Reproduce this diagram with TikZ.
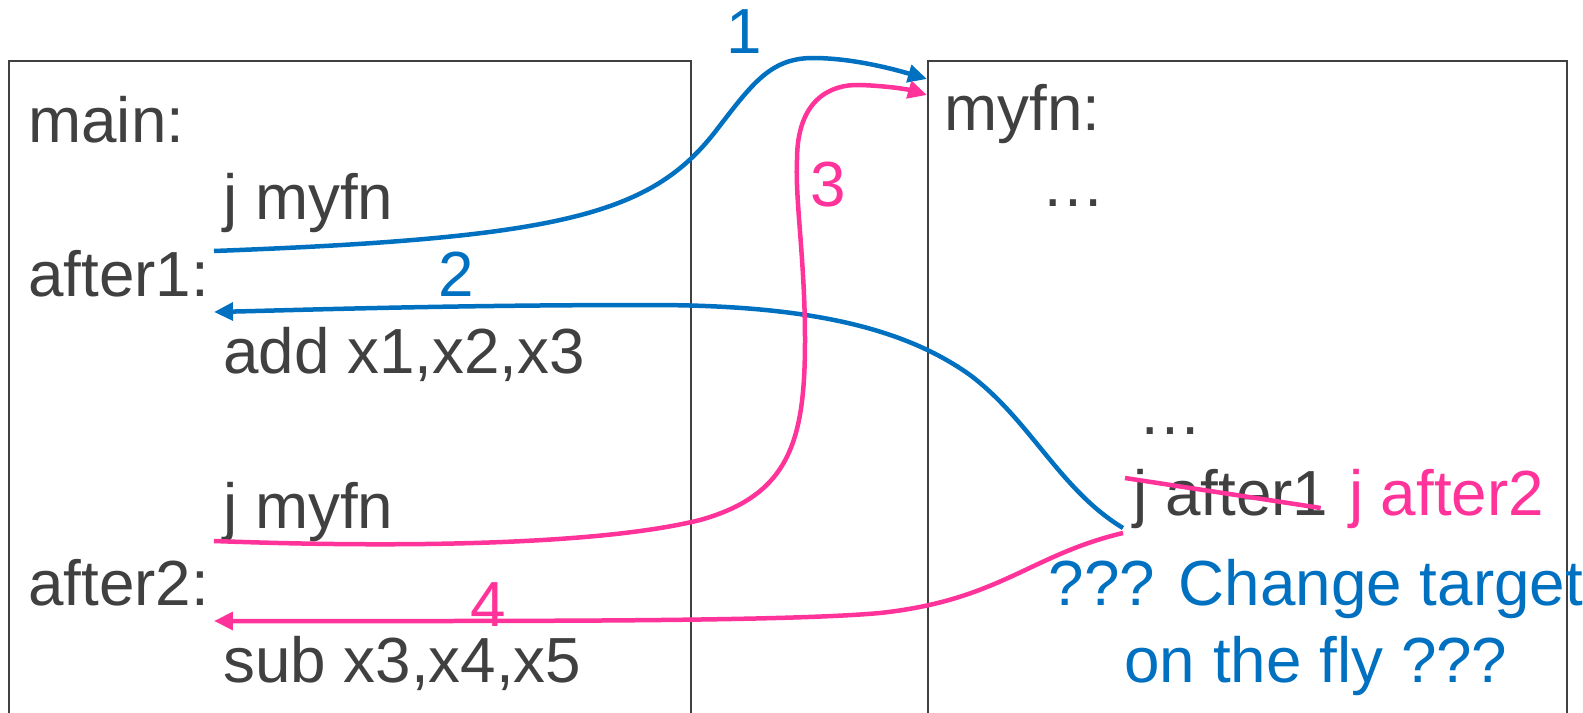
\documentclass[tikz,border=0pt]{standalone}
\usepackage{fontspec}
\setmainfont{Liberation Sans}
\usetikzlibrary{arrows.meta, positioning}
\definecolor{ink}{RGB}{64, 64, 64}
\definecolor{callblue}{RGB}{0, 112, 192}
\definecolor{retpink}{RGB}{255, 51, 153}
\tikzset{
  codebox/.style={
    draw=ink, line width=0.04cm, anchor=north west, inner sep=0pt
  },
  code/.style={
    font=\fontsize{36.3}{43.7}\selectfont, text=ink,
    inner sep=0pt, anchor=base west
  },
  steplabel/.style={
    font=\fontsize{36.3}{43.7}\selectfont, inner sep=0pt, anchor=base
  },
  blueflow/.style={-{Triangle[length=3.8mm, width=3.5mm]}, line width=0.09cm, callblue},
  pinkflow/.style={-{Triangle[length=3.8mm, width=3.5mm]}, line width=0.09cm, retpink},
  strike/.style={line width=0.09cm, retpink},
}

\begin{document}
\begin{tikzpicture}[x=0.02cm, y=-0.02cm]
  \useasboundingbox (0,0) rectangle (1583,713);

  % ============ CODE BOXES ============
  \node[codebox, minimum width=13.64cm, minimum height=13.6cm] (mainbox) at (8,60) {};
  \node[codebox, minimum width=12.78cm, minimum height=13.6cm] (fnbox) at (927,60) {};

  % caller (left box)
  \node[code] (mainlbl) at (28,143) {main:};
  \node[code] (jmyfnA)  at (223,219) {j myfn};
  \node[code] (afterA)  at (28,296) {after1:};
  \node[code] (addins)  at (223,373) {add x1,x2,x3};
  \node[code] (jmyfnB)  at (223,528) {j myfn};
  \node[code] (afterB)  at (28,605) {after2:};
  \node[code] (subins)  at (223,682) {sub x3,x4,x5};

  % callee (right box)
  \node[code] (myfnlbl) at (944,131) {myfn:};
  \node[code] (dotsA)   at (1041,207) {…};
  \node[code] (dotsB)   at (1138,434) {…};
  \node[code] (jafterA) at (1133,515) {j after1};
  \node[code, text=retpink, anchor=base west] (jafterB)
    at ([xshift=0.4cm]jafterA.base east) {j after2};
  % (base of a two-line node sits on its last line)
  \node[code, text=callblue, align=center, anchor=base] (note) at (1316,682)
    {??? Change target\\on the fly ???};

  % ============ LINK POINTS ============
  \coordinate (callA) at (214,251);
  \coordinate (retA)  at (214,312);
  \coordinate (callB) at (214,541);
  \coordinate (retB)  at (214,621);
  \coordinate (entryA) at (927,79);
  \coordinate (entryB) at (927,95);
  \coordinate (exitA) at (1123,528);
  \coordinate (exitB) at (1123,533);

  % ============ CONTROL FLOW ============
  % 1: first call
  \draw[blueflow] (callA) .. controls (560,238) and (650,215) .. (715,132)
    .. controls (752,84) and (770,58) .. (813,58)
    .. controls (850,58) and (890,68) .. (entryA);
  % 2: return to after1
  \draw[blueflow] (exitA) .. controls (1060,490) and (1030,420) .. (970,375)
    .. controls (900,325) and (800,305) .. (650,305)
    .. controls (450,305) and (300,310) .. (retA);
  % 3: second call
  \draw[pinkflow] (callB) .. controls (400,548) and (600,545) .. (700,520)
    .. controls (790,495) and (805,440) .. (805,340)
    .. controls (805,260) and (795,200) .. (797,160)
    .. controls (797,100) and (830,84) .. (860,85)
    .. controls (890,86) and (910,90) .. (entryB);
  % 4: return to after2
  \draw[pinkflow] (exitB) .. controls (1030,555) and (1000,600) .. (880,613)
    .. controls (780,622) and (500,621) .. (retB);

  % crossed-out target
  \draw[strike] ([shift={(-8,-37)}]jafterA.base west) -- ([shift={(-8,-7)}]jafterA.base east);

  % step numbers
  \node[steplabel, text=callblue] (stepA) at (744,54) {1};
  \node[steplabel, text=callblue] (stepB) at (456,296) {2};
  \node[steplabel, text=retpink]  (stepC) at (828,207) {3};
  \node[steplabel, text=retpink]  (stepD) at (488,626) {4};

\end{tikzpicture}
\end{document}
